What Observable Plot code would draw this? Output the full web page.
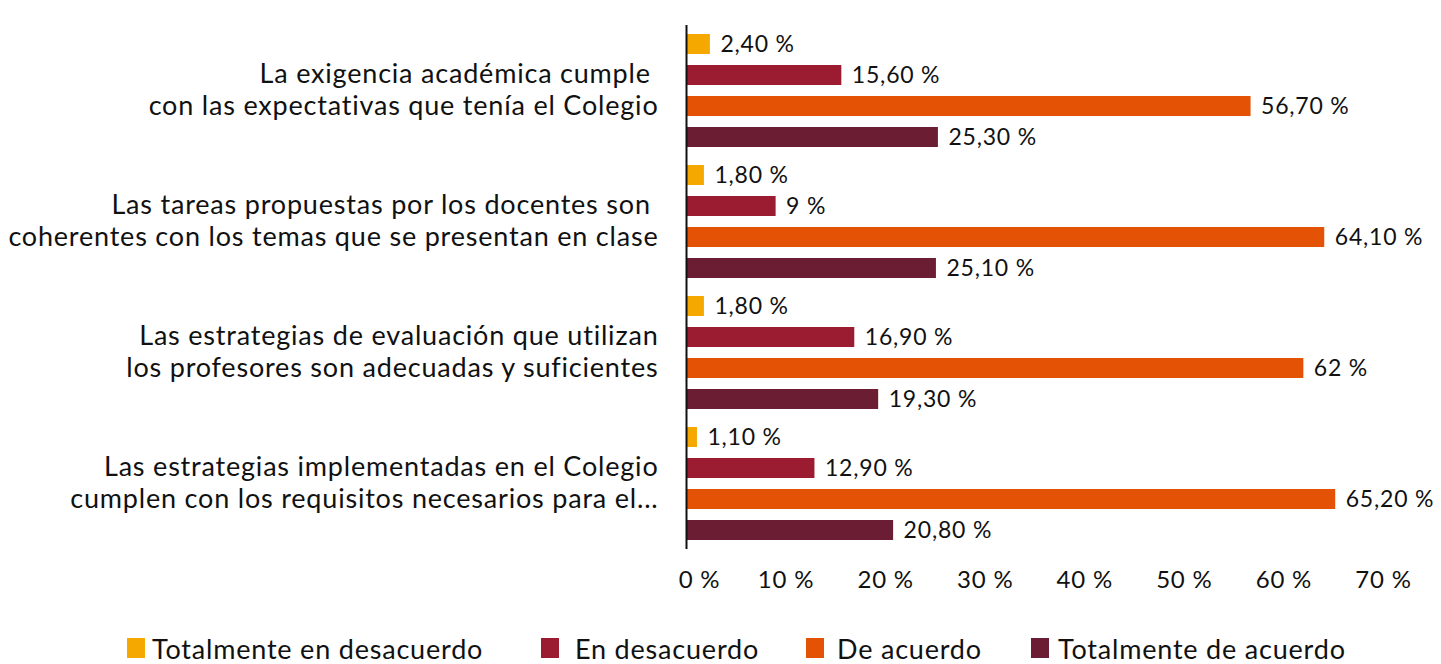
<!DOCTYPE html>
<html>
<head>
<meta charset="utf-8">
<script src="https://cdn.jsdelivr.net/npm/d3@7"></script>
<script src="https://cdn.jsdelivr.net/npm/@observablehq/plot@0.6"></script>
<style>
  html, body { margin: 0; padding: 0; background: #fff; }
  #chart { width: 1441px; }
  #chart svg text { letter-spacing: 0.8px; }
  .legend { display: flex; align-items: center; height: 30px; margin-top: 33px; font-family: Lato, sans-serif; font-size: 27px; letter-spacing: 0.8px; color: #111; }
  .legend .item { display: flex; align-items: center; }
  .legend .sw { width: 18px; height: 20px; }
</style>
</head>
<body>
<div id="chart"></div>
<script>
const categories = [
  "La exigencia académica cumple \ncon las expectativas que tenía el Colegio",
  "Las tareas propuestas por los docentes son \ncoherentes con los temas que se presentan en clase",
  "Las estrategias de evaluación que utilizan\nlos profesores son adecuadas y suficientes",
  "Las estrategias implementadas en el Colegio\ncumplen con los requisitos necesarios para el..."
];
const series = ["Totalmente en desacuerdo", "En desacuerdo", "De acuerdo", "Totalmente de acuerdo"];
const colors = ["#F5A800", "#9B1B30", "#E35205", "#6A1D33"];
const totalmenteDesacuerdo = [2.4, 1.8, 1.8, 1.1];
const enDesacuerdo = [15.6, 9, 16.9, 12.9];
const deAcuerdo = [56.7, 64.1, 62, 65.2];
const totalmenteAcuerdo = [25.3, 25.1, 19.3, 20.8];
const xTicks = [0, 10, 20, 30, 40, 50, 60, 70];

const seriesValues = [totalmenteDesacuerdo, enDesacuerdo, deAcuerdo, totalmenteAcuerdo];
const data = [];
categories.forEach((c, i) => series.forEach((s, j) => data.push({cat: c, series: s, value: seriesValues[j][i]})));
const fmt = v => (Number.isInteger(v) ? String(v) : v.toFixed(2).replace(".", ",")) + " %";
const tickFmt = d => d + " %";

const chart = Plot.plot({
  width: 1441,
  height: 600,
  marginLeft: 686,
  marginRight: 58,
  marginTop: 24,
  marginBottom: 51,
  style: {fontFamily: "Lato, sans-serif", color: "#111", background: "#fff"},
  x: {domain: [0, 70], ticks: xTicks, tickFormat: tickFmt, tickSize: 0, tickPadding: 22, label: null},
  fy: {domain: categories, padding: 0, axis: null, label: null},
  y: {domain: series, paddingInner: 0.365, paddingOuter: 0.26, axis: null, label: null},
  color: {domain: series, range: colors},
  marks: [
    Plot.barX(data, {fy: "cat", y: "series", x: "value", fill: "series"}),
    Plot.text(data, {fy: "cat", y: "series", x: "value", text: d => fmt(d.value), textAnchor: "start", dx: 10, fontSize: 23, fill: "#111"}),
    Plot.text(categories, {fy: d => d, text: d => d, frameAnchor: "left", textAnchor: "end", dx: -28, dy: -2, fontSize: 27, lineHeight: 1.19, fill: "#111"}),
    Plot.ruleX([0], {stroke: "#111", strokeWidth: 2}),
    Plot.axisX({ticks: xTicks.slice(0, 1), tickFormat: tickFmt, tickSize: 0, tickPadding: 21, fontSize: 24, dx: 13, label: null}),
    Plot.axisX({ticks: xTicks.slice(1), tickFormat: tickFmt, tickSize: 0, tickPadding: 21, fontSize: 24, label: null})
  ]
});
document.getElementById("chart").appendChild(chart);

const legend = document.createElement("div");
legend.className = "legend";
const starts = [127, 541, 806, 1031];
const gaps = [7, 16, 13, 9];
series.forEach((s, i) => {
  const it = document.createElement("div");
  it.className = "item";
  it.style.position = "absolute";
  it.style.left = starts[i] + "px";
  const sw = document.createElement("span");
  sw.className = "sw";
  sw.style.background = colors[i];
  sw.style.marginRight = gaps[i] + "px";
  const t = document.createElement("span");
  t.textContent = s;
  it.appendChild(sw); it.appendChild(t);
  legend.appendChild(it);
});
document.body.appendChild(legend);
</script>
</body>
</html>
